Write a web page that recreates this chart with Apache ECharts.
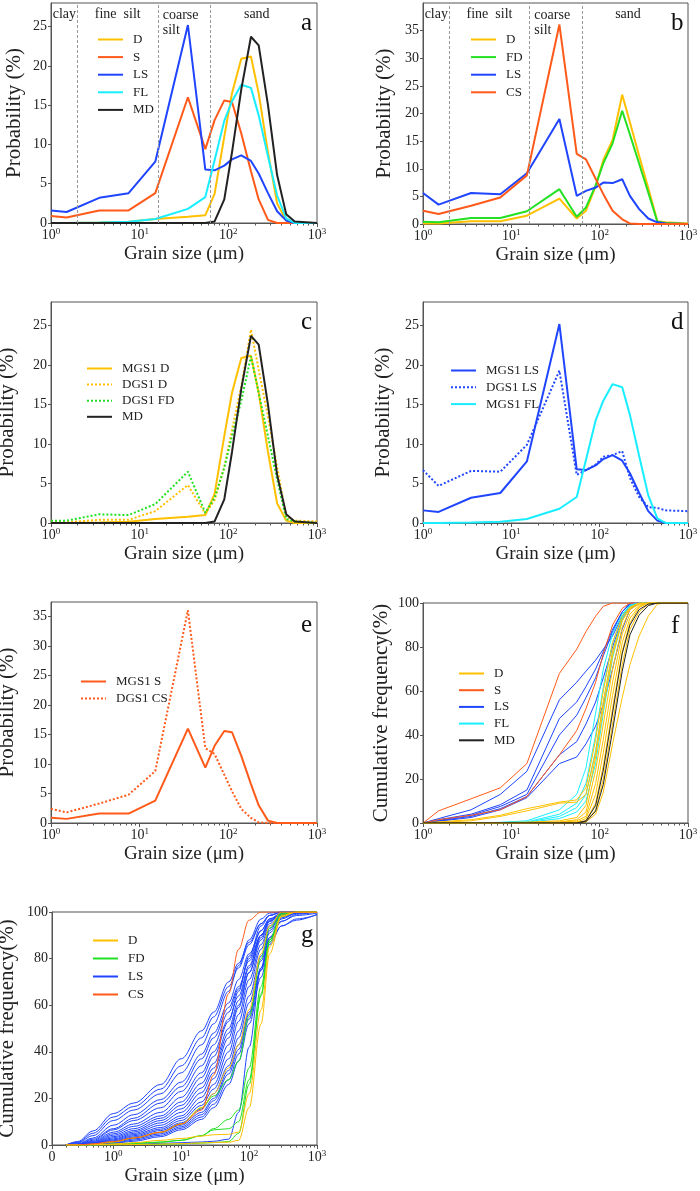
<!DOCTYPE html>
<html>
<head>
<meta charset="utf-8">
<title>Grain size distributions</title>
<script src="https://cdn.jsdelivr.net/npm/echarts@6/dist/echarts.min.js"></script>
<style>
  html, body { margin: 0; padding: 0; background: #fff; }
  #chart { width: 700px; height: 1191px; }
</style>
</head>
<body>
<div id="chart"></div>
<script>
// grain size bins (µm) for panels a-f
const SIZES = [1, 1.5, 3.5, 7.5, 15, 35, 55, 70, 90, 110, 140, 180, 220, 280, 355, 450, 560, 1000]
// finer bins in panel g
const G_SIZES = [0.2, 0.3, 0.5, 1, 2, 5, 10, 20, 30, 50, 70, 100, 150, 200, 300, 500, 1000]

// probability (%) - MGS1 types
const MGS1_D  = [0, 0, 0.05, 0.15, 0.5, 0.8, 1.0, 3.7, 11, 16.5, 20.9, 21.2, 16.5, 9, 2.5, 0.3, 0, 0]
const MGS1_S  = [0.9, 0.7, 1.6, 1.6, 3.8, 16.0, 9.4, 13.1, 15.6, 15.4, 11.4, 6.6, 3.0, 0.4, 0, 0, 0, 0]
const MGS1_LS = [1.6, 1.4, 3.2, 3.8, 7.8, 25.2, 6.8, 6.7, 7.3, 8.1, 8.6, 7.9, 6.3, 3.8, 1.5, 0.3, 0, 0]
const MGS1_FL = [0, 0, 0.05, 0.15, 0.5, 1.8, 3.3, 8, 13, 15.5, 17.6, 17.2, 13.7, 8.5, 3.5, 0.6, 0, 0]
const MD      = [0, 0, 0, 0, 0, 0, 0, 0.2, 3.0, 9, 17, 23.7, 22.6, 15, 6.1, 1.1, 0.2, 0]

// probability (%) - DGS1 types (panel b)
const DGS1_D  = [0.1, 0.1, 0.5, 0.5, 1.5, 4.6, 1.0, 2.4, 6.8, 11.6, 15.2, 23.4, 18.4, 12.3, 6.5, 0.5, 0.3, 0.1]
const DGS1_FD = [0.4, 0.3, 1.1, 1.1, 2.3, 6.3, 1.3, 3.0, 7.0, 11.0, 14.6, 20.5, 16.2, 10.9, 5.7, 0.4, 0.2, 0]
const DGS1_LS = [5.6, 3.5, 5.6, 5.4, 9.2, 19.0, 5.1, 6.0, 6.6, 7.5, 7.4, 8.1, 5.1, 2.7, 1.0, 0.3, 0.1, 0]
const DGS1_CS = [2.4, 1.8, 3.3, 4.8, 8.8, 36.1, 12.7, 11.7, 8.2, 5.4, 2.4, 0.85, 0.1, 0, 0, 0, 0, 0]

// dotted curves as drawn in panels c and d
const C_DGS1_D  = [0.1, 0.1, 0.4, 0.4, 1.5, 4.8, 1.2, 2.9, 7.1, 11.8, 17.3, 24.5, 19.4, 13.5, 7.1, 0.8, 0.3, 0.2]
const C_DGS1_FD = [0.3, 0.3, 1.1, 1.0, 2.4, 6.5, 1.3, 3.2, 7.0, 11.0, 15.5, 21.1, 16.5, 11.0, 5.5, 0.5, 0.2, 0]
const D_DGS1_LS = [6.7, 4.7, 6.6, 6.5, 9.9, 19.3, 6.1, 6.7, 7.4, 8.4, 8.6, 9.1, 5.7, 3.3, 2.0, 1.9, 1.6, 1.5]

// cumulative frequency (%) - panel f, one row per sample
const F_LS = [
  [0, 2, 6, 13, 23.5, 56, 64, 69, 74, 79, 85, 94, 99, 100, 100, 100, 100, 100],
  [0, 1.5, 4, 8.3, 15, 47.5, 55, 62, 70, 78, 88, 96, 99.5, 100, 100, 100, 100, 100],
  [0, 1.2, 3.5, 7.5, 13, 40, 49, 57, 66, 76, 87, 96, 100, 100, 100, 100, 100, 100],
  [0, 1, 3, 6.5, 12, 31, 37, 45, 55, 66, 80, 93, 99, 100, 100, 100, 100, 100],
  [0, 0.8, 2.5, 6, 11.5, 27, 30, 36, 44, 54, 70, 88, 97, 100, 100, 100, 100, 100]
]
const F_S = [
  [0, 5.5, 11, 16, 27, 68, 79, 87, 94, 98.5, 100, 100, 100, 100, 100, 100, 100, 100],
  [0, 1.5, 3.5, 6, 12, 31, 42, 52, 64, 77, 90, 97.5, 100, 100, 100, 100, 100, 100]
]
const F_FL = [
  [0, 0, 0, 0.3, 1, 6, 13, 25, 50, 70, 86, 95, 99, 100, 100, 100, 100, 100],
  [0, 0, 0, 0.2, 0.5, 4, 9, 18, 40, 62, 82, 94, 99, 100, 100, 100, 100, 100],
  [0, 0, 0, 0.1, 0.3, 3, 7, 13, 33, 55, 78, 93, 98.5, 100, 100, 100, 100, 100],
  [0, 0, 0, 0, 0.2, 2, 5, 10, 27, 50, 75, 92, 98, 100, 100, 100, 100, 100]
]
const F_D = [
  [0, 0.5, 1.5, 3.5, 6.5, 9.5, 10.5, 16, 38, 60, 82, 94, 98, 100, 100, 100, 100, 100],
  [0, 0.3, 1, 3, 5.5, 9, 9.5, 13, 32, 55, 78, 92, 97.5, 100, 100, 100, 100, 100],
  [0, 0, 0.1, 0.2, 0.4, 1, 2.5, 8, 30, 52, 76, 92, 98, 100, 100, 100, 100, 100],
  [0, 0, 0, 0.1, 0.2, 0.5, 1.5, 5, 24, 45, 70, 89, 97, 99.5, 100, 100, 100, 100],
  [0, 0, 0, 0, 0.1, 0.3, 1, 3, 18, 38, 64, 86, 95, 99, 100, 100, 100, 100],
  [0, 0, 0, 0, 0, 0.2, 0.5, 2, 13, 32, 58, 82, 93, 98.5, 100, 100, 100, 100],
  [0, 0, 0, 0, 0, 0.1, 0.3, 1, 9, 26, 52, 78, 91, 98, 100, 100, 100, 100],
  [0, 0, 0, 0, 0, 0, 0.2, 0.5, 6, 20, 45, 72, 88, 96, 99.5, 100, 100, 100],
  [0, 0, 0, 0, 0, 0, 0, 0.5, 4, 14, 36, 57, 72, 85, 94, 99.5, 100, 100]
]
const F_MD = [
  [0, 0, 0, 0, 0, 0, 0, 0.6, 5.4, 17.5, 42, 69, 85.5, 94.5, 98.8, 100, 100, 100],
  [0, 0, 0, 0, 0, 0, 0, 1, 8, 24, 50, 77, 90, 97, 99.5, 100, 100, 100]
]

// cumulative frequency (%) - panel g
const G_LS = [
  [0, 1.5, 6, 13.5, 18, 26, 37, 49, 57, 70, 78, 87, 95, 98.5, 100, 100, 100],
  [0, 1.2, 5, 12, 16.5, 24, 34, 46, 55, 68, 76, 86, 95, 98.5, 100, 100, 100],
  [0, 1, 4, 10.5, 15, 22, 31, 43, 52, 66, 77, 88, 97, 99.5, 100, 100, 100],
  [0, 0.6, 3, 8.5, 13, 19.5, 27, 39, 48, 61, 71, 82, 92, 97, 99.5, 100, 100],
  [0, 0.4, 2.5, 7, 11.5, 18, 25, 37, 46, 59, 68, 79, 90, 96, 99, 100, 100],
  [0, 0.3, 2, 6.5, 10.5, 16, 23, 34, 43, 57, 67, 80, 92, 97, 99.5, 100, 100],
  [0, 0.2, 1.6, 5.5, 9, 14, 20.5, 31, 40, 54, 64, 77, 90, 96.5, 99.5, 100, 100],
  [0, 0.2, 1.3, 4.8, 8, 12.5, 18.5, 29, 38, 53, 66, 81, 94, 98.5, 100, 100, 100],
  [0, 0.1, 1, 4.2, 7, 11.5, 17, 26.5, 35, 50, 62, 76, 90, 96, 99, 100, 100],
  [0, 0.1, 0.8, 3.6, 6.2, 10.5, 15.5, 24.5, 33, 48, 60, 74, 88, 95, 99, 100, 100],
  [0, 0.1, 0.7, 3.1, 5.6, 9.5, 14, 22.5, 31, 46, 59, 74, 89, 96, 99.5, 100, 100],
  [0, 0, 0.5, 2.6, 5, 8.5, 12.5, 20.5, 28.5, 43, 56, 71, 86, 94, 98.5, 100, 100],
  [0, 0, 0.4, 2.2, 4.5, 7.5, 11.5, 18.5, 26, 40, 53, 68, 84, 93, 98, 99.5, 100],
  [0, 0, 0.3, 1.8, 4, 6.8, 10.5, 17, 24, 37, 49, 64, 81, 91, 97.5, 99.5, 100],
  [0, 0, 0.3, 1.5, 3.5, 6.2, 9.5, 15.5, 22, 34, 46, 61, 79, 89, 96, 98.5, 99.5],
  [0, 0, 0.2, 1.2, 3, 5.4, 8.5, 14, 20, 32, 43, 57, 75, 87, 94, 96.5, 99],
  [0, 0, 0.2, 1, 2.6, 4.8, 7.8, 13, 19, 30.5, 41, 56, 76, 88, 96, 99, 100],
  [0, 0, 0.1, 0.8, 2.1, 4.2, 7.2, 12, 17.5, 28, 39, 54, 75, 89, 97, 99.5, 100],
  [0, 0, 0.1, 0.6, 1.6, 3.6, 6.5, 11, 16, 26, 36, 52, 72, 86, 94, 97, 98.8],
  [0, 0, 0, 0.2, 0.4, 0.7, 1, 1.3, 1.6, 2.5, 14, 42, 76, 92, 99, 100, 100]
]
const G_FD = [
  [0, 0, 0.3, 1.3, 3, 5.5, 9, 16, 21, 28, 36, 55, 80, 93, 99.5, 100, 100],
  [0, 0, 0.1, 0.4, 0.8, 1.3, 2, 4, 7, 11, 15, 33, 68, 88, 99, 100, 100],
  [0, 0, 0, 0.3, 0.6, 1.2, 2, 4, 6.5, 7, 10, 28, 65, 88, 99, 100, 100],
  [0, 0, 0, 0.1, 0.2, 0.3, 0.5, 0.8, 1, 1.5, 5, 26, 64, 87, 98, 100, 100]
]
const G_D = [
  [0, 0, 0.1, 0.4, 1, 2, 2.8, 3.8, 4.4, 4.6, 5.5, 22, 58, 85, 98.5, 100, 100],
  [0, 0, 0, 0.1, 0.2, 0.4, 0.6, 0.9, 1.1, 1.2, 2, 16, 52, 82, 98, 100, 100],
  [0, 0, 0.3, 1.3, 3, 5.5, 9, 16, 22, 33, 43, 58, 82, 94, 100, 100, 100]
]
const G_CS = [0, 0, 0.5, 1.5, 3, 5.5, 9, 15, 30, 65, 84, 96.5, 100, 100, 100, 100, 100]

// sediment classes in panels a and b
const ZONE_EDGES = [1, 2, 16, 63, 1000]
const ZONE_NAMES = ['clay', 'fine  silt', 'coarse\nsilt', 'sand']
const PANEL_LETTERS = ['a', 'b', 'c', 'd', 'e', 'f', 'g']

const FONT = "'Liberation Serif', 'DejaVu Serif', serif"
const INK = '#222'
const FRAME = '#555'
const YELLOW = '#ffc000'
const ORANGE = '#ff5a1a'
const BLUE = '#1f45ff'
const CYAN = '#18eeff'
const BLACK = '#222'
const GREEN = '#22e022'

// plot boxes of the seven panels
const GRIDS = [
  { left: 51, top: 3, width: 266, height: 220 },
  { left: 423, top: 3, width: 265, height: 221 },
  { left: 51, top: 302, width: 266, height: 221 },
  { left: 423, top: 302, width: 265, height: 221 },
  { left: 51, top: 602, width: 266, height: 221 },
  { left: 423, top: 603, width: 265, height: 220 },
  { left: 52, top: 912, width: 265, height: 233 }
]

function pts (xs, ys) {
  return ys.map((y, i) => [xs[i], y])
}

function line (name, idx, xs, ys, color, extra) {
  return Object.assign({
    type: 'line',
    name: name,
    xAxisIndex: idx,
    yAxisIndex: idx,
    data: pts(xs, ys),
    symbol: 'none',
    color: color,
    lineStyle: { color: color, width: 2 },
    emphasis: { disabled: true },
    silent: true
  }, extra || {})
}

function dotted (name, idx, xs, ys, color) {
  return line(name, idx, xs, ys, color, { lineStyle: { color: color, width: 2, type: [2, 2] } })
}

function thin (name, idx, xs, ys, color, smooth) {
  return line(name, idx, xs, ys, color, {
    lineStyle: { color: color, width: 1 },
    smooth: smooth ? 0.35 : false,
    smoothMonotone: 'x'
  })
}

function powLabel (v) {
  if (v < 0.5) return '{b|0}'
  const e = Math.round(Math.log10(v))
  return '{b|10}{s|' + e + '}'
}

function xAxisFor (idx, min) {
  return {
    type: 'log',
    logBase: 10,
    gridIndex: idx,
    min: min,
    max: 1000,
    name: 'Grain size (μm)',
    nameLocation: 'middle',
    nameGap: 22,
    nameTextStyle: { fontFamily: FONT, fontSize: 19, color: INK },
    axisLine: { show: true, lineStyle: { color: FRAME, width: 1 } },
    axisTick: { show: true, length: 4, lineStyle: { color: FRAME } },
    minorTick: { show: true, splitNumber: 9, length: 2.5, lineStyle: { color: FRAME } },
    splitLine: { show: false },
    minorSplitLine: { show: false },
    axisLabel: {
      margin: 4,
      formatter: powLabel,
      rich: {
        b: { fontFamily: FONT, fontSize: 14, color: INK, lineHeight: 16 },
        s: { fontFamily: FONT, fontSize: 9, color: INK, lineHeight: 9, verticalAlign: 'top' }
      }
    }
  }
}

function yAxisFor (idx, max, interval, name, nameGap, showMax) {
  return {
    type: 'value',
    gridIndex: idx,
    min: 0,
    max: max,
    interval: interval,
    name: name,
    nameLocation: 'middle',
    nameGap: nameGap,
    nameTextStyle: { fontFamily: FONT, fontSize: 21, color: INK },
    axisLine: { show: true, lineStyle: { color: FRAME, width: 1 } },
    axisTick: { show: true, length: 3, lineStyle: { color: FRAME } },
    splitLine: { show: false },
    axisLabel: { margin: 4, fontFamily: FONT, fontSize: 14, color: INK, showMaxLabel: showMax }
  }
}

function legendAt (left, top, gap, names) {
  return {
    orient: 'vertical',
    left: left,
    top: top,
    itemWidth: 25,
    itemHeight: 14,
    itemGap: gap,
    selectedMode: false,
    // hide the marker dot, keep the line sample
    itemStyle: { opacity: 0 },
    textStyle: { fontFamily: FONT, fontSize: 13, color: INK, padding: [0, 0, 0, 5] },
    data: names
  }
}

// dashed class boundaries and class names for panels a, b
function zones (series) {
  series.markLine = {
    silent: true,
    symbol: ['none', 'none'],
    label: { show: false },
    lineStyle: { type: [3, 2], color: '#999', width: 1 },
    data: ZONE_EDGES.slice(1, -1).map(v => ({ xAxis: v }))
  }
  series.markArea = {
    silent: true,
    itemStyle: { color: 'rgba(0,0,0,0)' },
    label: {
      position: 'insideTop',
      distance: 4,
      fontFamily: FONT,
      fontSize: 14,
      color: INK,
      lineHeight: 15
    },
    data: ZONE_NAMES.map((n, i) => {
      const from = { xAxis: ZONE_EDGES[i], name: n }
      if (n.indexOf('\n') >= 0) from.label = { position: 'insideTopLeft', distance: 5, align: 'left' }
      if (n === 'sand') from.label = { offset: [-7, 0] }
      return [from, { xAxis: ZONE_EDGES[i + 1] }]
    })
  }
  return series
}

const series = []

// a
series.push(zones(line('D', 0, SIZES, MGS1_D, YELLOW)))
series.push(line('S', 0, SIZES, MGS1_S, ORANGE))
series.push(line('LS', 0, SIZES, MGS1_LS, BLUE))
series.push(line('FL', 0, SIZES, MGS1_FL, CYAN))
series.push(line('MD', 0, SIZES, MD, BLACK))
// b
series.push(zones(line('D', 1, SIZES, DGS1_D, YELLOW)))
series.push(line('FD', 1, SIZES, DGS1_FD, GREEN))
series.push(line('LS', 1, SIZES, DGS1_LS, BLUE))
series.push(line('CS', 1, SIZES, DGS1_CS, ORANGE))
// c
series.push(line('MGS1 D', 2, SIZES, MGS1_D, YELLOW))
series.push(dotted('DGS1 D', 2, SIZES, C_DGS1_D, YELLOW))
series.push(dotted('DGS1 FD', 2, SIZES, C_DGS1_FD, GREEN))
series.push(line('MD ', 2, SIZES, MD, BLACK))
// d
series.push(line('MGS1 LS', 3, SIZES, MGS1_LS, BLUE))
series.push(dotted('DGS1 LS', 3, SIZES, D_DGS1_LS, BLUE))
series.push(line('MGS1 FL', 3, SIZES, MGS1_FL, CYAN))
// e
series.push(line('MGS1 S', 4, SIZES, MGS1_S, ORANGE))
series.push(dotted('DGS1 CS', 4, SIZES, DGS1_CS, ORANGE))
// f
F_LS.forEach(r => series.push(thin('LS', 5, SIZES, r, BLUE)))
F_S.forEach(r => series.push(thin('S', 5, SIZES, r, ORANGE)))
F_FL.forEach(r => series.push(thin('FL', 5, SIZES, r, CYAN)))
F_D.forEach(r => series.push(thin('D', 5, SIZES, r, YELLOW)))
F_MD.forEach(r => series.push(thin('MD', 5, SIZES, r, BLACK)))
// g
G_LS.forEach(r => series.push(thin('LS', 6, G_SIZES, r, BLUE, true)))
G_FD.forEach(r => series.push(thin('FD', 6, G_SIZES, r, GREEN, true)))
G_D.forEach(r => series.push(thin('D', 6, G_SIZES, r, YELLOW, true)))
series.push(thin('CS', 6, G_SIZES, G_CS, ORANGE, true))

const chart = echarts.init(document.getElementById('chart'), null, { renderer: 'canvas' })

chart.setOption({
  animation: false,
  backgroundColor: '#fff',
  textStyle: { fontFamily: FONT },
  title: PANEL_LETTERS.map((t, i) => ({
    text: t,
    left: [296, 666, 296, 666, 296, 666, 296][i],
    top: [6, 6, 305, 305, 608, 609, 918][i],
    textStyle: { fontFamily: FONT, fontSize: 25, fontWeight: 'normal', color: '#111' }
  })),
  grid: GRIDS.map(g => Object.assign({
    show: true,
    borderColor: FRAME,
    borderWidth: 1,
    backgroundColor: 'transparent',
    containLabel: false,
    outerBoundsMode: 'none'
  }, g)),
  xAxis: [
    xAxisFor(0, 1), xAxisFor(1, 1), xAxisFor(2, 1), xAxisFor(3, 1),
    xAxisFor(4, 1), xAxisFor(5, 1), xAxisFor(6, 0.125)
  ],
  yAxis: [
    yAxisFor(0, 28, 5, 'Probability (%)', 26, false),
    yAxisFor(1, 40, 5, 'Probability (%)', 28, false),
    yAxisFor(2, 28, 5, 'Probability (%)', 33, false),
    yAxisFor(3, 28, 5, 'Probability (%)', 29, false),
    yAxisFor(4, 37.5, 5, 'Probability (%)', 33, false),
    yAxisFor(5, 100, 20, 'Cumulative frequency(%)', 31, true),
    yAxisFor(6, 100, 20, 'Cumulative frequency(%)', 34, true)
  ],
  legend: [
    legendAt(92, 28, 4.6, ['D', 'S', 'LS', 'FL', 'MD']),
    legendAt(465, 28, 4.6, ['D', 'FD', 'LS', 'CS']),
    legendAt(81, 357, 3.1, ['MGS1 D', 'DGS1 D', 'DGS1 FD', 'MD ']),
    legendAt(445, 359, 3.8, ['MGS1 LS', 'DGS1 LS', 'MGS1 FL']),
    legendAt(75, 670, 4, ['MGS1 S', 'DGS1 CS']),
    legendAt(453, 662, 3.7, ['D', 'S', 'LS', 'FL', 'MD']),
    legendAt(87, 929, 5, ['D', 'FD', 'LS', 'CS'])
  ],
  series: series
})
</script>
</body>
</html>
